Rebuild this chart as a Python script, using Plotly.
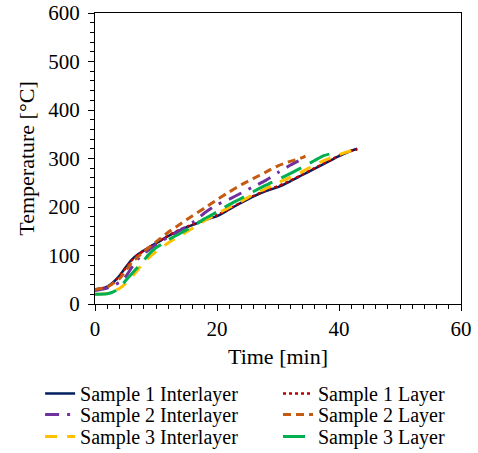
import plotly.graph_objects as go

# Sample 1 Interlayer
s1i_t = [0, 1, 2, 3, 4, 5, 6, 7, 8, 9, 10, 12, 14, 16, 18, 20, 22, 24, 26, 28, 29, 30, 32, 34, 36, 38, 40, 42, 43]
s1i_T = [30, 32, 36, 45, 58, 75, 91, 102, 110, 118, 125, 140, 153, 163, 173, 181, 195, 209, 222, 233, 237, 241, 253, 266, 279, 292, 305, 316, 320]
# Sample 1 Layer
s1l_t = [0, 1, 2, 3, 4, 5, 6, 7, 8, 9, 10, 12, 14, 16, 18, 20, 22, 24, 26, 28, 30, 32, 34, 36, 38, 40, 42, 43]
s1l_T = [29, 31, 35, 44, 57, 74, 90, 101, 110, 118, 126, 141, 154, 164, 174, 183, 196, 210, 223, 234, 243, 254, 267, 280, 293, 306, 316, 319]
# Sample 2 Interlayer
s2i_t = [0, 2, 4, 5, 6, 7, 8, 10, 12, 14, 16, 18, 20, 22, 24, 26, 28, 30, 32, 33.8]
s2i_T = [28, 33, 45, 56, 75, 92, 104, 122, 138, 152, 168, 188, 205, 216, 229, 242, 255, 271, 286, 298]
# Sample 2 Layer
s2l_t = [0, 2, 4, 6, 8, 10, 12, 14, 16, 18, 20, 22, 24, 26, 28, 30, 32, 34, 34.5]
s2l_T = [30, 35, 52, 85, 108, 128, 148, 165, 182, 198, 215, 231, 246, 259, 272, 285, 294, 302, 305]
# Sample 3 Interlayer
s3i_t = [0, 2, 4, 5, 6, 7, 8, 10, 12, 14, 16, 18, 20, 22, 24, 26, 28, 30, 32, 34, 36, 38, 40, 42, 43]
s3i_T = [20, 22, 32, 42, 55, 70, 86, 108, 126, 141, 156, 172, 186, 199, 212, 226, 238, 250, 261, 273, 287, 298, 308, 316, 319]
# Sample 3 Layer
s3l_t = [0, 2, 3, 4, 5, 6, 7, 8, 9, 10, 11, 12, 14, 16, 18, 20, 22, 24, 26, 28, 30, 32, 34, 36, 37.5, 39.5]
s3l_T = [20, 21, 25, 33, 48, 62, 76, 90, 105, 116, 124, 132, 146, 160, 176, 190, 205, 218, 232, 245, 257, 269, 282, 296, 306, 312]

series = [
    ("Sample 1 Interlayer", s1i_t, s1i_T, "#002060", "solid", 2.5),
    ("Sample 1 Layer", s1l_t, s1l_T, "#C00000", "dot", 2.5),
    ("Sample 2 Interlayer", s2i_t, s2i_T, "#7030A0", "14px,8px,3px,8px", 3),
    ("Sample 2 Layer", s2l_t, s2l_T, "#C55A11", "8px,5px", 3),
    ("Sample 3 Interlayer", s3i_t, s3i_T, "#FFC000", "12px,10px", 3),
    ("Sample 3 Layer", s3l_t, s3l_T, "#00B050", "22px,10px", 3),
]

font = "Liberation Serif, Times New Roman, serif"
# legend slot per entry: (column x in paper, row y in paper)
col_x = [-0.150, 0.500]
row_y = [-0.2405, -0.3127, -0.3883]

fig = go.Figure()
legends = {}
for i, (name, t, T, col, dash, w) in enumerate(series):
    key = "legend" if i == 0 else f"legend{i + 1}"
    fig.add_trace(go.Scatter(x=t, y=T, mode="lines", name=name, legend=key,
                             line=dict(color=col, dash=dash, width=w, shape="spline", smoothing=0.6)))
    legends[key] = dict(orientation="v", xanchor="left", yanchor="top",
                        x=col_x[i % 2], y=row_y[i // 2],
                        font=dict(size=20, family=font), bgcolor="rgba(0,0,0,0)")

fig.update_layout(
    width=478, height=453,
    margin=dict(l=95, r=17, t=13, b=149, autoexpand=False),
    paper_bgcolor="white", plot_bgcolor="white",
    font=dict(family=font, size=21, color="black"),
    showlegend=True,
    **legends,
)
fig.update_xaxes(range=[0, 60], dtick=20, tick0=0, showgrid=False, zeroline=False,
                 showline=True, linecolor="black", linewidth=1.2, mirror=True,
                 ticks="outside", ticklen=6, tickcolor="black",
                 minor=dict(dtick=2, ticks="outside", ticklen=4, tickcolor="black", showgrid=False),
                 title=dict(text="Time [min]", font=dict(size=22), standoff=8))
fig.update_yaxes(range=[0, 600], dtick=100, tick0=0, showgrid=False, zeroline=False,
                 showline=True, linecolor="black", linewidth=1.2, mirror=True,
                 ticks="outside", ticklen=6, tickcolor="black", ticklabelstandoff=4,
                 minor=dict(dtick=20, ticks="outside", ticklen=4, tickcolor="black", showgrid=False),
                 title=dict(text="Temperature [°C]", font=dict(size=22), standoff=7))

fig.write_html("out.html", config={"displayModeBar": False},
               post_script="document.body.style.margin='0';")
